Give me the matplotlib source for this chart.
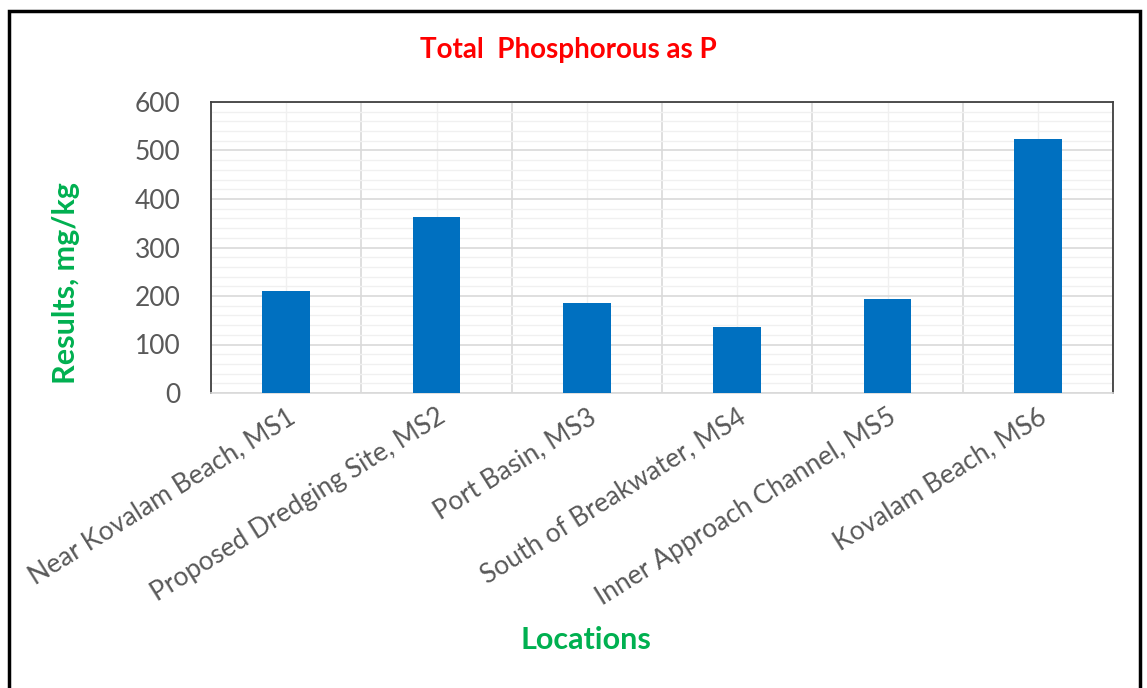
import matplotlib.pyplot as plt
import numpy as np
from matplotlib.patches import Rectangle
from matplotlib.ticker import MultipleLocator, FixedLocator

locations = ["Near Kovalam Beach, MS1", "Proposed Dredging Site, MS2", "Port Basin, MS3",
             "South of Breakwater, MS4", "Inner Approach Channel, MS5", "Kovalam Beach, MS6"]
results = [210, 363, 186, 136, 194, 523]

plt.rcParams["font.family"] = ["Lato", "DejaVu Sans"]

fig = plt.figure(figsize=(11.47, 6.88), dpi=100)
ax = fig.add_axes([211 / 1147, 1 - 393 / 688, (1113 - 211) / 1147, (393 - 102) / 688])

x = np.arange(len(locations))
ax.bar(x, results, width=0.315, color="#0070C0", zorder=3)

ax.set_xlim(-0.5, len(locations) - 0.5)
ax.set_ylim(0, 600)
ax.yaxis.set_major_locator(MultipleLocator(100))
ax.yaxis.set_minor_locator(MultipleLocator(20))
ax.xaxis.set_major_locator(FixedLocator(x))
ax.xaxis.set_minor_locator(FixedLocator(np.arange(-0.5, len(locations), 1.0)))

ax.grid(axis="y", which="major", color="#D9D9D9", lw=1.2, zorder=0)
ax.grid(axis="y", which="minor", color="#F0F0F0", lw=1.0, zorder=0)
ax.grid(axis="x", which="minor", color="#D9D9D9", lw=1.2, zorder=0)
ax.grid(axis="x", which="major", color="#F0F0F0", lw=1.0, zorder=0)

for side in ["left", "top", "right"]:
    ax.spines[side].set_color("#404040")
    ax.spines[side].set_linewidth(1.3)
ax.spines["bottom"].set_color("#D9D9D9")
ax.spines["bottom"].set_linewidth(1.2)

ax.tick_params(which="both", length=0)
ax.tick_params(axis="y", labelsize=19, labelcolor="#595959", pad=22)
ax.set_xticks(x)
ax.set_xticklabels(locations, rotation=32, ha="right", rotation_mode="anchor",
                   fontsize=19, color="#595959")
ax.tick_params(axis="x", pad=8)

fig.text(568 / 1147, 1 - 50 / 688, "Total  Phosphorous as P", color="#FF0000",
         fontsize=20, fontweight="bold", ha="center", va="center")
fig.text(66 / 1147, 1 - 283 / 688, "Results, mg/kg", color="#00B050",
         fontsize=22, fontweight="bold", ha="center", va="center", rotation=90)
fig.text(586 / 1147, 1 - 640 / 688, "Locations", color="#00B050",
         fontsize=22, fontweight="bold", ha="center", va="center")

# outer chart border
fig.patches.append(Rectangle((9 / 1147, -0.05), (1140 - 9) / 1147, 1 - 11 / 688 + 0.05,
                             transform=fig.transFigure, fill=False, edgecolor="black",
                             lw=2.5))

fig.savefig("out.png", dpi=100)
